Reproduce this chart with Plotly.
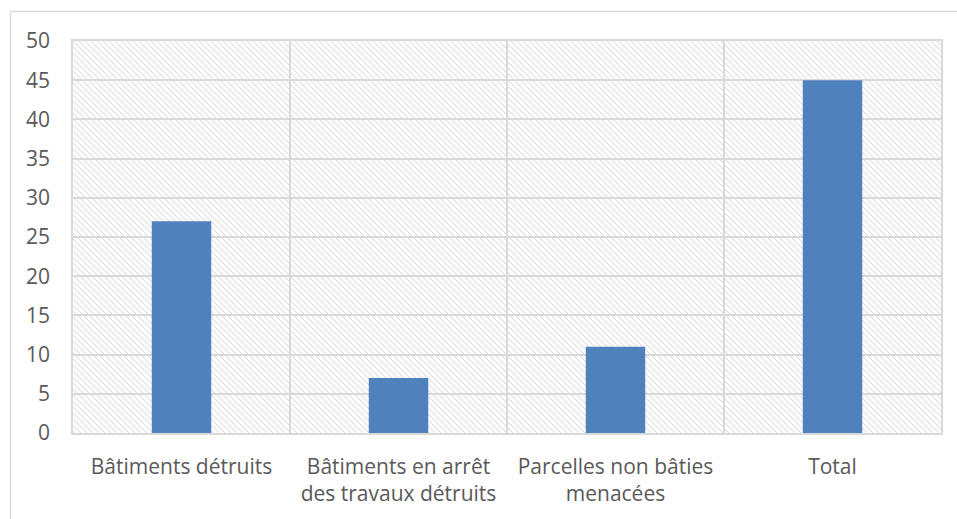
import base64
import plotly.graph_objects as go

categories = ["Bâtiments détruits", "Bâtiments en arrêt<br>des travaux détruits",
              "Parcelles non bâties<br>menacées", "Total"]
values = [27, 7, 11, 45]
y_ticks = [0, 5, 10, 15, 20, 25, 30, 35, 40, 45, 50]

BAR_COLOR = "#4f81bd"
GRID = "#d9d9d9"
TEXT = "#595959"
FONT = "Open Sans"

# hatch pattern for plot background
svg = ('<svg xmlns="http://www.w3.org/2000/svg" width="868" height="392">'
       '<defs><pattern id="h" width="6" height="6" patternUnits="userSpaceOnUse">'
       '<path d="M-1,-1 L7,7 M-1,5 L1,7 M5,-1 L7,1" stroke="#e0e0e0" stroke-width="1.2"/>'
       '</pattern></defs><rect width="100%" height="100%" fill="white"/>'
       '<rect width="100%" height="100%" fill="url(#h)"/></svg>')
src = "data:image/svg+xml;base64," + base64.b64encode(svg.encode()).decode()

fig = go.Figure(go.Bar(x=categories, y=values, marker=dict(color=BAR_COLOR, line=dict(width=0)),
                       width=0.274))

W, H = 957, 519
L, R, T, B = 73, 16, 41, 86
pw, ph = W - L - R, H - T - B

fig.update_layout(
    width=W, height=H,
    margin=dict(l=L, r=R, t=T, b=B, pad=0),
    paper_bgcolor="white", plot_bgcolor="rgba(0,0,0,0)",
    font=dict(family=FONT, size=21, color=TEXT),
    showlegend=False,
    images=[dict(source=src, xref="paper", yref="paper", x=0, y=1, sizex=1, sizey=1,
                 xanchor="left", yanchor="top", sizing="stretch", layer="below")],
    shapes=[
        dict(type="line", xref="paper", yref="paper", x0=(10.5 - L) / pw, x1=1.2,
             y0=(H - B - 11.5) / ph, y1=(H - B - 11.5) / ph, line=dict(color=GRID, width=1.5)),
        dict(type="line", xref="paper", yref="paper", x0=(10.5 - L) / pw, x1=(10.5 - L) / pw,
             y0=-0.5, y1=(H - B - 11.5) / ph, line=dict(color=GRID, width=1.5)),
    ],
)
fig.update_xaxes(showgrid=True, gridcolor=GRID, gridwidth=1.5, tickson="boundaries",
                 ticks="", showline=True, linecolor=GRID, linewidth=1.5, mirror=True,
                 ticklabelstandoff=14, tickfont=dict(size=21, color=TEXT))
fig.update_yaxes(range=[0, 50], tickvals=y_ticks, showgrid=True, gridcolor=GRID, gridwidth=1.5,
                 zeroline=False, showline=True, linecolor=GRID, linewidth=1.5, mirror=True,
                 ticks="", ticklabelstandoff=17, tickfont=dict(size=21, color=TEXT))

html = fig.to_html(full_html=True, include_plotlyjs=True, config={"displayModeBar": False})
html = html.replace("<head>", "<head><style>html,body{margin:0;padding:0;}</style>", 1)
with open("out.html", "w", encoding="utf-8") as f:
    f.write(html)
